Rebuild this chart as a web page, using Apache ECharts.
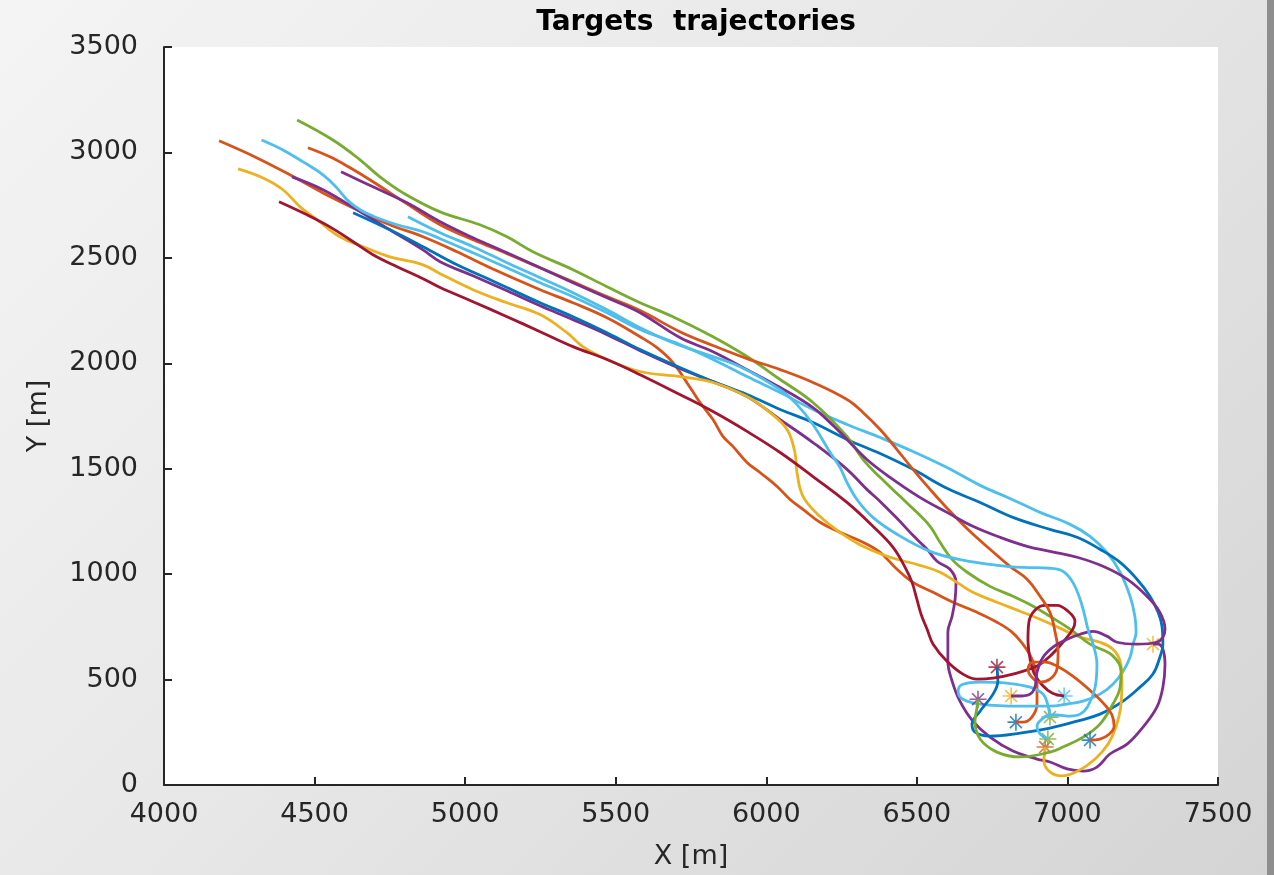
<!DOCTYPE html>
<html>
<head>
<meta charset="utf-8">
<title>Targets trajectories</title>
<script src="https://cdn.jsdelivr.net/npm/echarts@6/dist/echarts.min.js"></script>
<style>
  html, body { margin: 0; padding: 0; }
  body {
    width: 1274px; height: 875px; overflow: hidden; position: relative;
    background: linear-gradient(135deg, #f4f4f4 0%, #e8e8e8 45%, #d4d4d4 100%);
  }
  #edge { position: absolute; right: 0; top: 0; width: 7px; height: 875px; background: #8e8e8e; }
  #chart { position: absolute; left: 0; top: 0; width: 1274px; height: 875px; }
</style>
</head>
<body>
<div id="edge"></div>
<div id="chart"></div>
<script>
// trajectories, [x, y] in metres
const orangeA = [[4183,3055],[4309,2974],[4418,2894],[4528,2808],[4641,2728],[4750,2657],[4860,2600],[4973,2529],[5083,2453],[5249,2349],[5358,2287],[5471,2216],[5581,2126],[5637,2074],[5690,2003],[5747,1885],[5780,1814],[5823,1733],[5856,1653],[5889,1606],[5936,1530],[5979,1482],[6036,1416],[6079,1354],[6122,1307],[6178,1246],[6245,1198],[6321,1151],[6378,1103],[6434,1023],[6487,961],[6554,914],[6620,867],[6700,819],[6766,772],[6816,725],[6852,668],[6876,616],[6892,559],[6899,502],[6899,445],[6899,384],[6882,322],[6852,298],[6829,298]];
const purpleA = [[4425,2884],[4528,2823],[4641,2728],[4750,2633],[4860,2538],[4917,2482],[5026,2415],[5139,2344],[5249,2273],[5358,2207],[5471,2136],[5581,2060],[5713,1975],[5823,1913],[5936,1842],[6046,1733],[6155,1624],[6268,1497],[6334,1402],[6378,1345],[6434,1265],[6487,1184],[6534,1118],[6567,1061],[6610,1023],[6630,961],[6627,881],[6617,800],[6603,725],[6603,668],[6603,587],[6617,493],[6643,398],[6686,303],[6743,227],[6819,161],[6899,123],[6942,109],[6999,76],[7052,66],[7098,85],[7141,147],[7198,194],[7251,275],[7297,369],[7317,464],[7324,573],[7317,644],[7301,668],[7284,668]];
const lightblueA = [[4324,3059],[4395,3012],[4462,2955],[4528,2894],[4574,2832],[4608,2775],[4651,2728],[4707,2690],[4774,2657],[4860,2624],[4917,2591],[5026,2524],[5139,2453],[5249,2382],[5358,2316],[5471,2240],[5581,2160],[5713,2089],[5823,2018],[5936,1937],[6046,1861],[6155,1781],[6268,1710],[6378,1648],[6487,1582],[6600,1506],[6710,1421],[6809,1359],[6909,1293],[7009,1236],[7075,1179],[7131,1103],[7175,1009],[7208,895],[7224,800],[7228,725],[7218,668],[7208,606],[7185,540],[7151,478],[7108,431],[7052,398],[6999,384],[6942,374],[6843,374],[6710,384],[6653,407],[6637,445],[6653,478],[6710,488],[6799,483],[6876,464],[6919,431],[6935,379],[6942,322]];
const blue = [[4628,2714],[4750,2633],[4860,2553],[4973,2467],[5083,2396],[5139,2359],[5249,2287],[5358,2221],[5471,2145],[5581,2065],[5713,1980],[5823,1913],[5936,1852],[6046,1781],[6155,1719],[6268,1639],[6378,1572],[6487,1497],[6600,1407],[6710,1340],[6819,1269],[6942,1212],[7032,1175],[7108,1118],[7175,1056],[7231,976],[7274,895],[7301,819],[7314,753],[7317,668],[7307,606],[7284,526],[7241,464],[7185,398],[7108,336],[7032,303],[6942,270],[6843,246],[6743,232],[6693,251],[6683,289],[6710,350],[6753,431],[6769,493],[6766,559]];
const yellow = [[4246,2922],[4329,2879],[4395,2823],[4452,2742],[4508,2681],[4584,2600],[4661,2553],[4750,2505],[4860,2467],[4917,2425],[5026,2349],[5139,2287],[5249,2231],[5338,2145],[5391,2079],[5471,2018],[5581,1961],[5713,1937],[5823,1909],[5936,1842],[6012,1767],[6069,1686],[6095,1577],[6102,1482],[6122,1369],[6178,1274],[6245,1198],[6321,1132],[6411,1080],[6510,1042],[6577,1009],[6633,961],[6686,914],[6766,867],[6843,824],[6909,786],[6975,744],[7042,701],[7108,677],[7151,644],[7175,587],[7181,502],[7178,384],[7161,275],[7135,194],[7092,123],[7035,66],[6982,43],[6942,62],[6922,114],[6926,180]];
const green = [[4442,3154],[4561,3059],[4651,2965],[4717,2884],[4794,2808],[4917,2718],[5049,2657],[5139,2600],[5225,2529],[5358,2444],[5471,2363],[5581,2287],[5690,2221],[5823,2126],[5936,2032],[6046,1923],[6155,1814],[6268,1653],[6321,1544],[6378,1459],[6444,1369],[6500,1293],[6544,1227],[6577,1151],[6617,1070],[6667,1009],[6743,942],[6819,895],[6886,848],[6942,800],[7009,739],[7075,668],[7148,616],[7178,540],[7175,464],[7151,384],[7108,289],[7052,227],[6985,180],[6942,156],[6843,133],[6766,156],[6710,218],[6693,303],[6700,369],[6703,407]];
const darkred = [[4382,2766],[4475,2704],[4551,2647],[4618,2586],[4694,2515],[4774,2458],[4860,2401],[4917,2359],[5026,2292],[5139,2221],[5249,2150],[5358,2079],[5471,2018],[5581,1946],[5713,1852],[5823,1771],[5936,1677],[6046,1577],[6155,1463],[6268,1340],[6354,1227],[6421,1127],[6461,1032],[6484,961],[6500,881],[6514,810],[6534,739],[6554,668],[6600,587],[6653,526],[6700,502],[6753,507],[6819,526],[6899,564],[6942,611],[6985,677],[7018,739],[7025,777],[7002,824],[6965,852],[6926,852],[6892,829],[6872,772],[6869,691],[6876,597],[6889,530],[6916,474],[6949,436],[6989,422]];
const orangeB = [[4478,3022],[4551,2979],[4618,2927],[4694,2861],[4807,2756],[4917,2657],[5026,2586],[5139,2520],[5249,2453],[5358,2387],[5471,2316],[5581,2250],[5713,2150],[5823,2084],[5936,2022],[6046,1970],[6155,1909],[6268,1828],[6321,1767],[6378,1686],[6434,1591],[6487,1497],[6544,1402],[6610,1298],[6676,1203],[6743,1118],[6809,1037],[6866,976],[6909,895],[6942,819],[6959,725],[6969,630],[6965,549],[6942,502],[6909,488],[6882,511],[6869,549],[6886,583],[6926,583],[6965,564],[7018,516],[7085,436],[7125,379],[7148,332],[7155,279],[7135,237],[7108,218],[7075,213]];
const purpleB = [[4588,2908],[4694,2837],[4807,2761],[4917,2671],[5026,2595],[5139,2524],[5249,2453],[5358,2382],[5471,2311],[5581,2240],[5713,2122],[5823,2055],[5936,1970],[6046,1885],[6155,1790],[6222,1705],[6268,1639],[6334,1544],[6411,1459],[6510,1364],[6600,1293],[6686,1227],[6776,1175],[6866,1132],[6942,1108],[7032,1080],[7118,1037],[7198,976],[7264,895],[7307,819],[7324,739],[7317,701],[7297,677],[7231,668],[7165,677],[7131,706],[7085,729],[7042,715],[6992,687],[6952,654],[6919,606],[6899,535],[6892,464],[6876,431],[6843,422],[6813,422]];
const lightblueB = [[4810,2695],[4917,2619],[5026,2553],[5139,2477],[5249,2406],[5358,2335],[5471,2254],[5581,2169],[5690,2098],[5803,2041],[5913,1984],[6046,1875],[6102,1804],[6155,1710],[6212,1577],[6245,1506],[6268,1435],[6301,1354],[6354,1269],[6434,1189],[6544,1108],[6653,1066],[6766,1042],[6852,1032],[6942,1028],[6985,1014],[7018,961],[7042,881],[7058,800],[7068,739],[7085,668],[7098,573],[7092,464],[7068,374],[7042,336],[7009,327],[6965,332],[6942,332],[6916,313],[6899,279],[6909,242],[6935,218]];

const tracks = [orangeA, purpleA, lightblueA, blue, yellow, green, darkred, orangeB, purpleB, lightblueB];
const lineColors = ['#D95319', '#7E2F8E', '#4DBEEE', '#0072BD', '#EDB120', '#77AC30', '#A2142F', '#D95319', '#7E2F8E', '#4DBEEE'];
const endColors = ['#0072BD', '#EDB120', '#77AC30', '#A2142F', '#D95319', '#7E2F8E', '#4DBEEE', '#0072BD', '#EDB120', '#77AC30'];

const xMin = 4000, xMax = 7500, yMin = 0, yMax = 3500, step = 500;
const star = 'path://M10,0L10,20M0,10L20,10M3,3L17,17M3,17L17,3';
const ink = '#262626';

let chart = echarts.init(document.getElementById('chart'));

let series = [];
tracks.forEach((t, i) => {
    series.push({
        type: 'scatter',
        data: [t[t.length - 1]],
        symbol: star,
        symbolSize: 17,
        itemStyle: { color: endColors[i], borderColor: endColors[i], borderWidth: 1.6 },
        z: 2 + i * 2
    });
    series.push({
        type: 'line',
        data: t,
        smooth: 0.4,
        showSymbol: false,
        lineStyle: { color: lineColors[i], width: 2.8 },
        z: 3 + i * 2
    });
});

chart.setOption({
    animation: false,
    title: {
        text: 'Targets  trajectories',
        left: 691, top: 4, textAlign: 'center',
        textStyle: { fontFamily: 'DejaVu Sans', fontWeight: 'bold', fontSize: 28, color: '#000' }
    },
    grid: { left: 164, top: 47, width: 1054, height: 739, show: true, backgroundColor: '#fff', borderWidth: 0 },
    xAxis: {
        type: 'value', min: xMin, max: xMax, interval: step,
        name: 'X [m]', nameLocation: 'middle', nameGap: 58,
        nameTextStyle: { fontFamily: 'DejaVu Sans', fontSize: 27, color: ink },
        axisLine: { lineStyle: { color: ink, width: 2 } },
        axisTick: { inside: true, length: 8, lineStyle: { color: ink, width: 2 } },
        axisLabel: { margin: 16, fontFamily: 'DejaVu Sans', fontSize: 27, color: ink, formatter: v => String(v) },
        splitLine: { show: false }
    },
    yAxis: {
        type: 'value', min: yMin, max: yMax, interval: step,
        name: 'Y [m]', nameLocation: 'middle', nameGap: 112, nameRotate: 90,
        nameTextStyle: { fontFamily: 'DejaVu Sans', fontSize: 27, color: ink },
        axisLine: { lineStyle: { color: ink, width: 2 } },
        axisTick: { inside: true, length: 8, lineStyle: { color: ink, width: 2 } },
        axisLabel: { margin: 26, fontFamily: 'DejaVu Sans', fontSize: 27, color: ink, formatter: v => String(v) },
        splitLine: { show: false }
    },
    series: series
});
</script>
</body>
</html>
